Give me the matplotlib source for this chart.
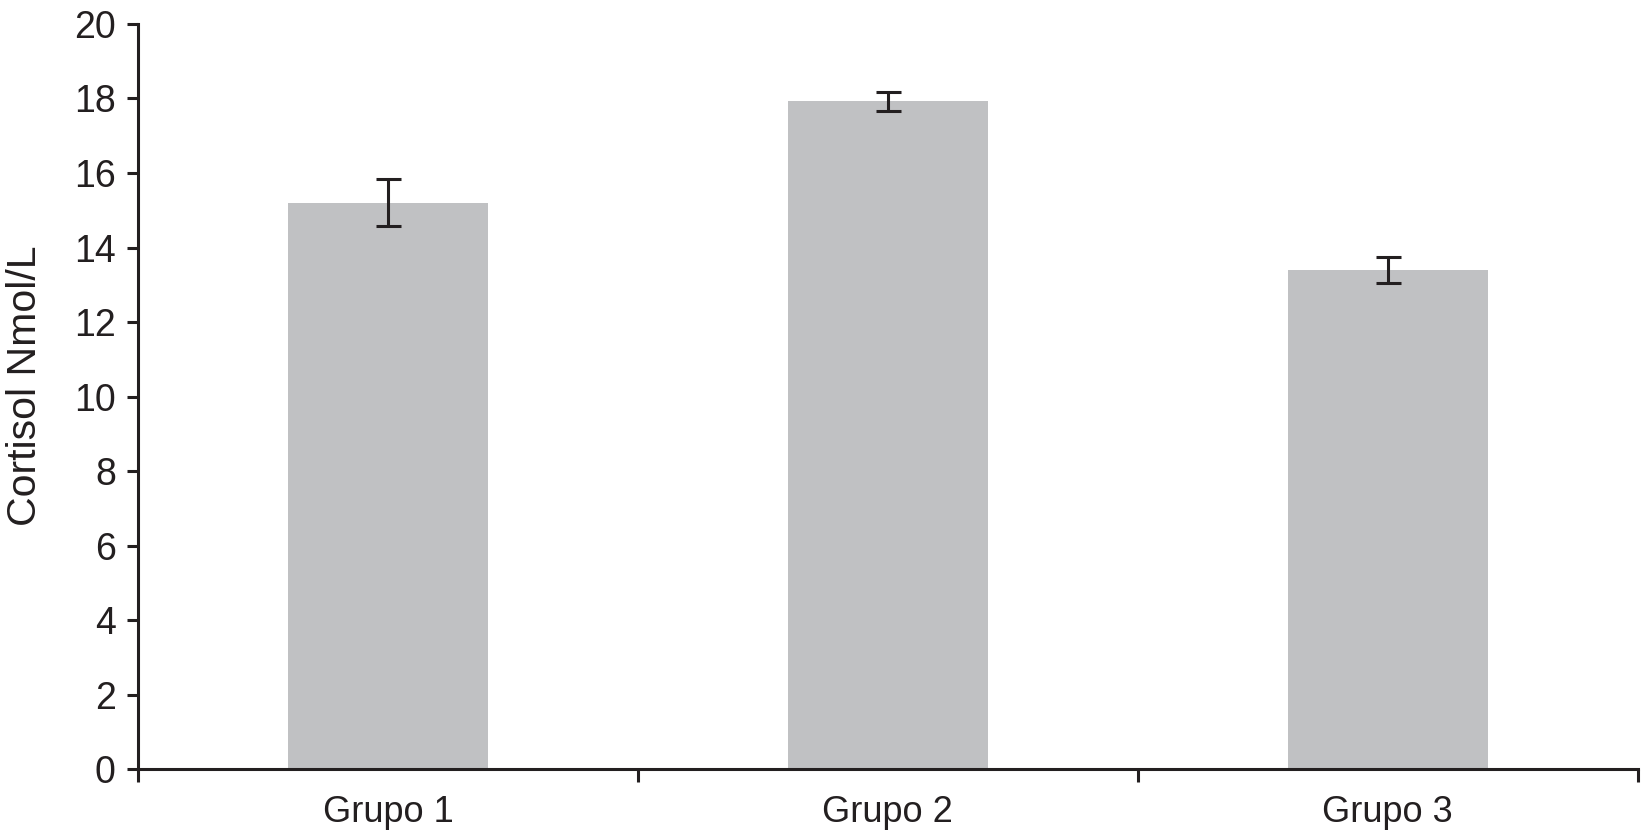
import matplotlib
matplotlib.use("Agg")
import matplotlib.pyplot as plt
import numpy as np

groups = ["Grupo 1", "Grupo 2", "Grupo 3"]
cortisol = [15.2, 17.92, 13.4]
cortisol_err = [0.63, 0.26, 0.34]

plt.rcParams['font.family'] = ['Liberation Sans', 'DejaVu Sans']

fig = plt.figure(figsize=(16.41, 8.33), dpi=100)
ax = fig.add_axes([0.0841, 0.0768, 0.9139, 0.8944])

x = np.arange(len(groups))
ax.bar(x, cortisol, width=0.4, color='#c0c1c3', zorder=1)
ax.errorbar(x, cortisol, yerr=cortisol_err, fmt='none', ecolor='#231f20',
            elinewidth=2.2, capsize=9, capthick=2.2, zorder=2)

ax.set_xlim(-0.5, len(groups) - 0.5)
ax.set_ylim(0, 20)
ax.set_yticks(np.arange(0, 21, 2))

# category boundaries get the ticks, names sit in between
ax.set_xticks(np.arange(-0.5, len(groups), 1.0))
ax.set_xticklabels([])
ax.set_xticks(x, minor=True)
ax.set_xticklabels(groups, minor=True)
ax.tick_params(axis='x', which='major', direction='out', length=9, width=2.2, color='#231f20')
ax.tick_params(axis='x', which='minor', length=0, pad=19, labelsize=26, labelcolor='#231f20')
ax.tick_params(axis='y', direction='out', length=8, width=2.2, pad=8, labelsize=27,
               color='#231f20', labelcolor='#231f20')

for side in ['top', 'right']:
    ax.spines[side].set_visible(False)
for side in ['left', 'bottom']:
    ax.spines[side].set_linewidth(2.2)
    ax.spines[side].set_color('#231f20')

ax.set_ylabel("Cortisol Nmol/L", fontsize=29.5, color='#231f20')
ax.yaxis.set_label_coords(-0.063, 0.515)

fig.savefig("out.png", dpi=100)
